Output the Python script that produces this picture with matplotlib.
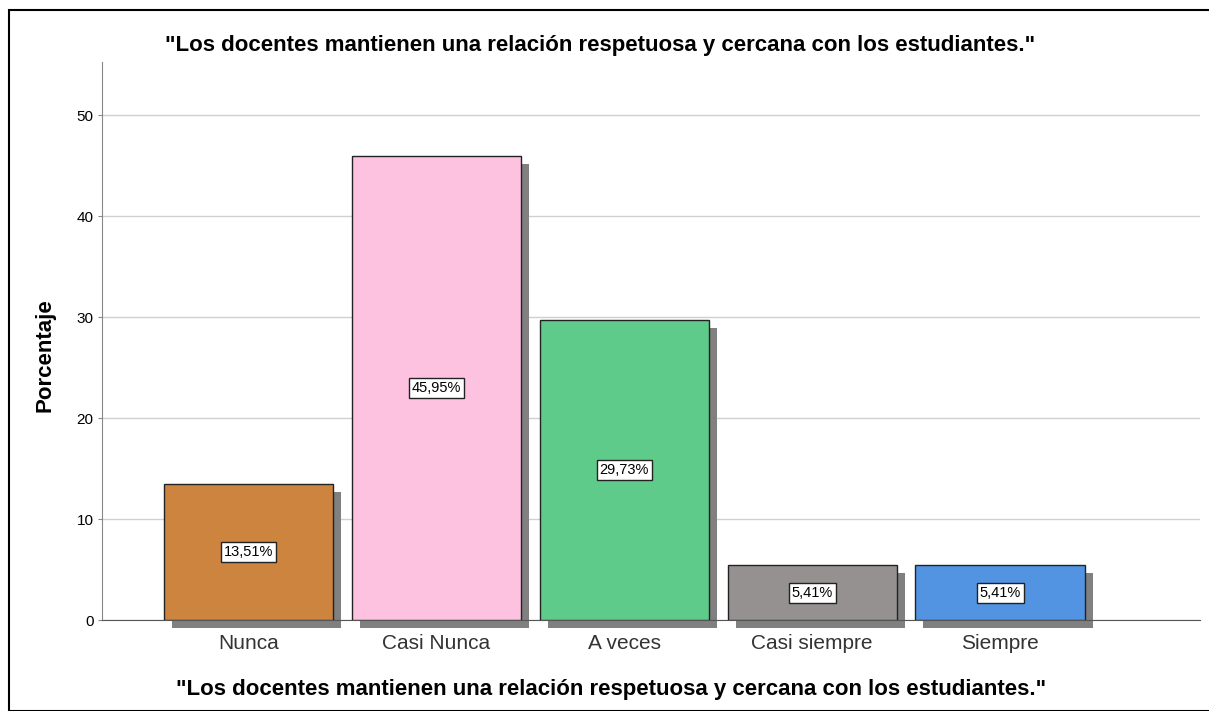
import matplotlib.pyplot as plt
import matplotlib.transforms as mtransforms
from matplotlib.patches import Rectangle

plt.rcParams['font.family'] = ['Liberation Sans', 'DejaVu Sans']

categorias = ['Nunca', 'Casi Nunca', 'A veces', 'Casi siempre', 'Siempre']
porcentajes = [13.51, 45.95, 29.73, 5.41, 5.41]
etiquetas = ['13,51%', '45,95%', '29,73%', '5,41%', '5,41%']
colores = ['#cc843f', '#fdc2e0', '#5fcb8b', '#959190', '#5294e2']
titulo = '"Los docentes mantienen una relación respetuosa y cercana con los estudiantes."'

fig = plt.figure(figsize=(12.09, 7.11), dpi=100)
ax = fig.add_axes([102/1209, 1-620/711, (1200-102)/1209, (620-62)/711])

# marco exterior
fig.patches.append(Rectangle((9/1209, 0), 1.2, 1-10/711, transform=fig.transFigure,
                             fill=False, edgecolor='black', linewidth=1.5))

x = list(range(len(categorias)))
ancho = 0.9

# sombras
sombra = ax.transData + mtransforms.ScaledTranslation(8/100, -8/100, fig.dpi_scale_trans)
ax.bar(x, porcentajes, width=ancho, color='#808080', edgecolor='none',
       transform=sombra, zorder=2, clip_on=False)
ax.bar(x, porcentajes, width=ancho, color=colores, edgecolor='#222222',
       linewidth=1.0, zorder=3)

for xi, v, t in zip(x, porcentajes, etiquetas):
    ax.text(xi, v/2, t, ha='center', va='center', fontsize=10.5, zorder=4,
            bbox=dict(boxstyle='square,pad=0.2', facecolor='white',
                      edgecolor='#222222', linewidth=1.0))

ax.set_xlim(-0.779, 5.064)
ax.set_ylim(0, 55.25)
ax.set_yticks([0, 10, 20, 30, 40, 50])
ax.yaxis.grid(True, color='#d0d0d0', linewidth=1.0, zorder=0)
ax.set_axisbelow(True)
for s in ['top', 'right']:
    ax.spines[s].set_visible(False)
ax.spines['left'].set_color('#888888')
ax.spines['bottom'].set_color('#555555')
ax.tick_params(axis='y', length=3, color='#888888', labelsize=11, pad=3)
ax.tick_params(axis='x', length=0, labelsize=15, pad=10, labelcolor='#333333')
ax.set_xticks(x)
ax.set_xticklabels(categorias)

fig.text(45/1209, 1-355/711, 'Porcentaje', rotation=90, ha='center', va='center',
         fontsize=16, fontweight='bold')
fig.text(611/1209, 1-689/711, titulo, ha='center', va='center',
         fontsize=16, fontweight='bold')
fig.text(0.496, 1-45/711, titulo, ha='center', va='center',
         fontsize=16, fontweight='bold')

fig.savefig('out.png', dpi=100)
